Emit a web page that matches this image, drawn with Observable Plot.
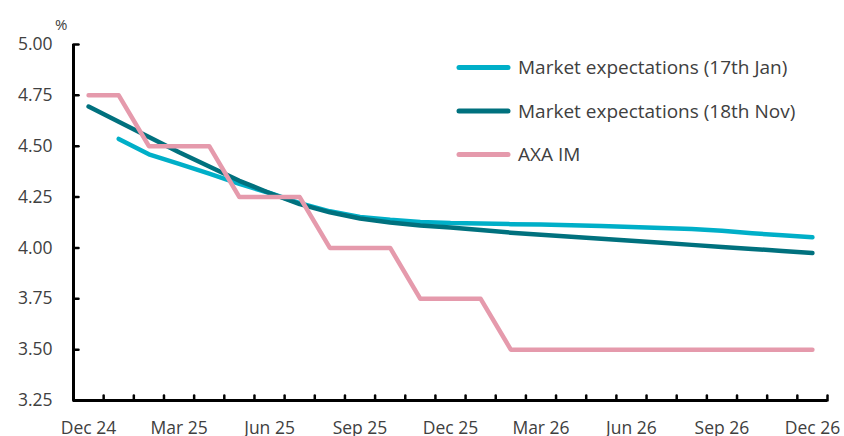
<!DOCTYPE html>
<html>
<head>
<meta charset="utf-8">
<script src="https://cdn.jsdelivr.net/npm/d3@7"></script>
<script src="https://cdn.jsdelivr.net/npm/@observablehq/plot@0.6"></script>
<style>
  html, body { margin: 0; padding: 0; background: #fff; }
  #wrap { position: relative; width: 844px; height: 436px; font-family: "Open Sans", sans-serif; color: #404040; }
  #unit { position: absolute; left: 55px; top: 14px; font-size: 15px; }
  #legend { position: absolute; left: 440px; top: 40px; }
</style>
</head>
<body>
<div id="wrap">
  <div id="chart"></div>
  <div id="unit">%</div>
  <svg id="legend" width="400" height="140"></svg>
</div>
<script>
// Months (category axis)
const months = ["Dec 24","Jan 25","Feb 25","Mar 25","Apr 25","May 25","Jun 25","Jul 25","Aug 25","Sep 25","Oct 25","Nov 25",
                "Dec 25","Jan 26","Feb 26","Mar 26","Apr 26","May 26","Jun 26","Jul 26","Aug 26","Sep 26","Oct 26","Nov 26","Dec 26"];
const xTickLabels = ["Dec 24","Mar 25","Jun 25","Sep 25","Dec 25","Mar 26","Jun 26","Sep 26","Dec 26"];
const yTicks = [3.25, 3.50, 3.75, 4.00, 4.25, 4.50, 4.75, 5.00];

// Series values (%), one per month
const seriesNames = ["Market expectations (17th Jan)", "Market expectations (18th Nov)", "AXA IM"];
const marketJan = [null, 4.536, 4.46, 4.413, 4.365, 4.315, 4.27, 4.22, 4.18, 4.152, 4.138, 4.128,
                   4.122, 4.12, 4.117, 4.115, 4.112, 4.108, 4.103, 4.098, 4.093, 4.085, 4.072, 4.062, 4.052];
const marketNov = [4.695, 4.62, 4.545, 4.47, 4.40, 4.33, 4.27, 4.215, 4.175, 4.145, 4.125, 4.11,
                   4.10, 4.088, 4.075, 4.065, 4.055, 4.045, 4.035, 4.025, 4.015, 4.005, 3.995, 3.985, 3.975];
const axaIM = [4.75, 4.75, 4.50, 4.50, 4.50, 4.25, 4.25, 4.25, 4.00, 4.00, 4.00, 3.75,
               3.75, 3.75, 3.50, 3.50, 3.50, 3.50, 3.50, 3.50, 3.50, 3.50, 3.50, 3.50, 3.50];

const colors = ["#00AFC8", "#00717E", "#E59AAC"];
const allSeries = [marketJan, marketNov, axaIM];

const rows = [];
allSeries.forEach((vals, s) => {
  vals.forEach((v, i) => { if (v != null) rows.push({series: seriesNames[s], i, month: months[i], value: v}); });
});

const boundaries = d3.range(months.length + 1).map(k => k - 0.5);
const labelPos = xTickLabels.map(l => months.indexOf(l));
const yMin = yTicks[0];
const xMin = boundaries[0];

const tickShape = {draw(context, l) { context.moveTo(0, 0); context.lineTo(0, -l); }};

const chart = Plot.plot({
  width: 844,
  height: 436,
  marginLeft: 73,
  marginRight: 17,
  marginTop: 44,
  marginBottom: 36,
  style: {fontFamily: "Open Sans, sans-serif", fontSize: "17.5px", color: "#404040", background: "#fff", overflow: "visible"},
  x: {type: "linear", domain: [-0.5, months.length - 0.5], label: null,
      ticks: labelPos, tickFormat: i => months[i], tickSize: 0, tickPadding: 21},
  y: {domain: [3.25, 5.0], label: null,
      ticks: yTicks, tickFormat: d3.format(".2f"), tickSize: 0, tickPadding: 21},
  color: {domain: seriesNames, range: colors},
  marks: [
    // inward tick marks
    Plot.vector(boundaries, {x: d => d, y: () => yMin, length: 5, rotate: 0, anchor: "start",
                             shape: tickShape, stroke: "#000", strokeWidth: 2.5}),
    Plot.vector(yTicks, {x: () => xMin, y: d => d, length: 5, rotate: 90, anchor: "start",
                         shape: tickShape, stroke: "#000", strokeWidth: 2.5}),
    // axis lines
    Plot.ruleX([xMin], {stroke: "#000", strokeWidth: 3}),
    Plot.ruleY([yMin], {stroke: "#000", strokeWidth: 3}),
    // series
    Plot.line(rows, {x: "i", y: "value", z: "series", stroke: "series",
                     strokeWidth: 4.5, strokeLinecap: "round", strokeLinejoin: "round"})
  ]
});
document.getElementById("chart").appendChild(chart);

// Legend
const legend = d3.select("#legend");
const legendY = [27.5, 71, 114.5];
seriesNames.forEach((name, k) => {
  legend.append("line")
    .attr("x1", 19).attr("x2", 68)
    .attr("y1", legendY[k]).attr("y2", legendY[k])
    .attr("stroke", colors[k]).attr("stroke-width", 5).attr("stroke-linecap", "round");
  legend.append("text")
    .attr("x", 78).attr("y", legendY[k] + 6.8)
    .attr("font-family", "Open Sans, sans-serif").attr("font-size", 19)
    .attr("fill", "#404040").text(name);
});
</script>
</body>
</html>
